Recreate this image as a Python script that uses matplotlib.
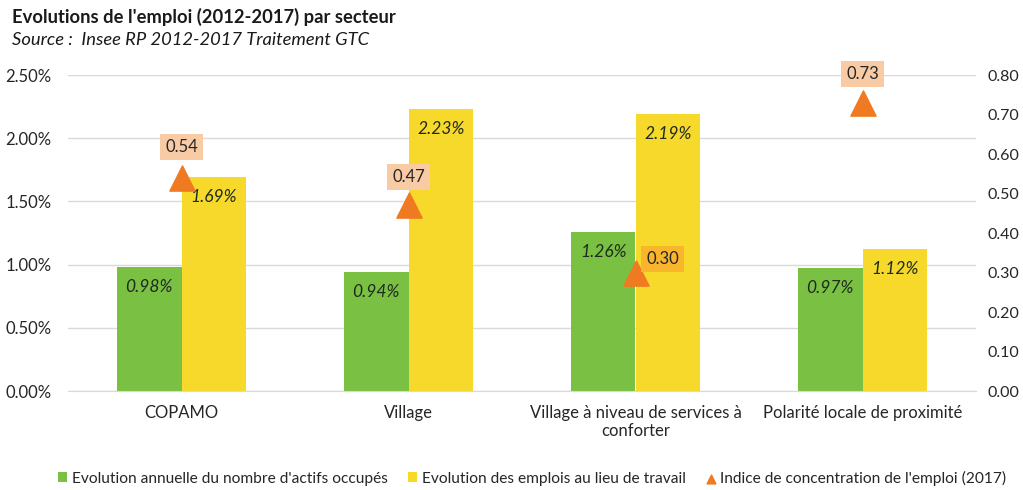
import matplotlib
matplotlib.use("Agg")
import matplotlib.pyplot as plt
import numpy as np

categories = ["COPAMO", "Village", "Village à niveau de services à\nconforter", "Polarité locale de proximité"]
actifs = [0.98, 0.94, 1.26, 0.97]
emplois = [1.69, 2.23, 2.19, 1.12]
indice = [0.54, 0.47, 0.30, 0.73]
left_ticks = [0.0, 0.5, 1.0, 1.5, 2.0, 2.5]
right_ticks = [0.0, 0.1, 0.2, 0.3, 0.4, 0.5, 0.6, 0.7, 0.8]

GREEN = "#7AC143"
YELLOW = "#F6D92B"
ORANGE = "#F07A22"
BOX = "#F9CBA4"
BOX2 = "#F9B52B"

plt.rcParams['font.family'] = ['Lato', 'DejaVu Sans']

fig = plt.figure(figsize=(10.23, 4.9), dpi=100)
ax = fig.add_axes([68/1023, 1-391/490, 908/1023, 316/490])
ax2 = ax.twinx()

x = np.arange(len(categories))
w = 0.285
ax.bar(x - w/2, actifs, w, color=GREEN, zorder=2, label="Evolution annuelle du nombre d'actifs occupés")
ax.bar(x + w/2, emplois, w, color=YELLOW, zorder=2, label="Evolution des emplois au lieu de travail")

for xi, v in zip(x, actifs):
    ax.annotate(f"{v:.2f}%", (xi - w/2, v), xytext=(0, -20), textcoords="offset pixels",
                ha="center", va="center", fontsize=12.5, style="italic", color="#1F2A1F", zorder=3)
for xi, v in zip(x, emplois):
    ax.annotate(f"{v:.2f}%", (xi + w/2, v), xytext=(0, -20), textcoords="offset pixels",
                ha="center", va="center", fontsize=12.5, style="italic", color="#1F2A1F", zorder=3)

ax.set_xlim(-0.5, len(categories) - 0.5)
ax.set_ylim(0, 2.5)
ax.set_yticks(left_ticks)
ax.set_yticklabels([f"{t:.2f}%" for t in left_ticks])
ax.yaxis.grid(True, color="#D9D9D9", linewidth=1, zorder=0)
ax.set_axisbelow(True)
ax.set_xticks(x)
ax.set_xticklabels(categories, fontsize=12, color="#262626")
ax.tick_params(axis="both", length=0, labelsize=12, colors="#262626")
ax.tick_params(axis="y", pad=12)
ax.tick_params(axis="x", pad=10)
for s in ["top", "left", "right"]:
    ax.spines[s].set_visible(False)
ax.spines["bottom"].set_color("#D9D9D9")

ax2.scatter(x, indice, marker="^", s=330, color=ORANGE, zorder=4, label="Indice de concentration de l'emploi (2017)")
ax2.set_ylim(0, 0.8)
ax2.set_yticks(right_ticks)
ax2.set_yticklabels([f"{t:.2f}" for t in right_ticks])
ax2.tick_params(axis="y", length=0, labelsize=11.5, colors="#262626", pad=8)
for s in ["top", "left", "right", "bottom"]:
    ax2.spines[s].set_visible(False)

offsets = [(0, 31), (0, 28), (27, 14), (0, 29)]
boxes = [BOX, BOX, BOX2, BOX]
for xi, v, off, bc in zip(x, indice, offsets, boxes):
    ax2.annotate(f"{v:.2f}", (xi, v), xytext=off, textcoords="offset pixels",
                 ha="center", va="center", fontsize=12, color="#262626",
                 bbox=dict(boxstyle="square,pad=0.3", fc=bc, ec="none"), zorder=5)

fig.text(12/1023, 1-17/490, "Evolutions de l'emploi (2012-2017) par secteur", fontsize=13.2,
         fontweight="bold", ha="left", va="center", color="#1a1a1a")
fig.text(12/1023, 1-40/490, "Source :  Insee RP 2012-2017 Traitement GTC", fontsize=13.2,
         style="italic", ha="left", va="center", color="#1a1a1a")

h1, l1 = ax.get_legend_handles_labels()
h2, l2 = ax2.get_legend_handles_labels()
fig.legend(h1 + h2, l1 + l2, loc="center", bbox_to_anchor=(532/1023, 1-478/490), ncol=3,
           frameon=False, fontsize=11.2, handlelength=0.6, handleheight=0.6, handletextpad=0.3,
           columnspacing=1.3, markerscale=0.35, labelcolor="#262626")

fig.savefig("out.png", dpi=100)
